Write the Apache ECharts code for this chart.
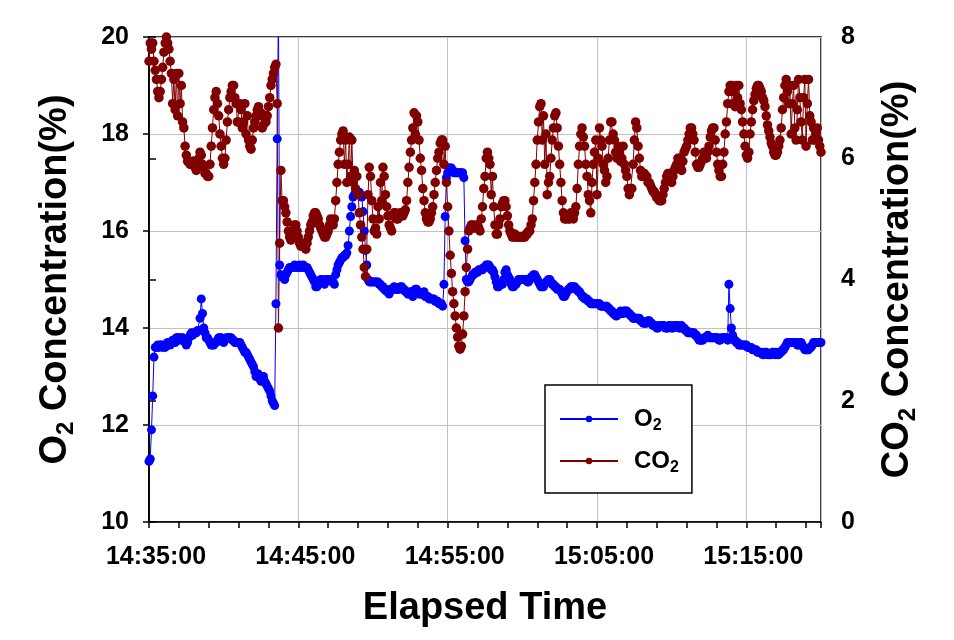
<!DOCTYPE html>
<html>
<head>
<meta charset="utf-8">
<script src="https://cdn.jsdelivr.net/npm/echarts@6/dist/echarts.min.js"></script>
<style>html,body{margin:0;padding:0;background:#fff}#c{width:954px;height:640px}</style>
</head>
<body>
<div id="c"></div>
<script>
// ---- data: one reading every 5 s starting at 14:35:00 (one row = one minute) ----
const sampleStepSeconds = 5;
const xTickLabels = ['14:35:00', '14:45:00', '14:55:00', '15:05:00', '15:15:00'];
const seriesNames = ['O2', 'CO2'];
const o2Values = [
  11.25, 11.3, 11.9, 12.6, 13.4, 13.6, 13.6, 13.65, 13.6, 13.65, 13.65, 13.6,
  13.65, 13.6, 13.65, 13.7, 13.7, 13.65, 13.7, 13.75, 13.75, 13.7, 13.8, 13.8,
  13.8, 13.75, 13.8, 13.8, 13.75, 13.7, 13.65, 13.7, 13.8, 13.85, 13.9, 13.85,
  13.9, 13.9, 13.9, 13.95, 13.95, 14.2, 14.6, 14.3, 14.0, 13.9, 13.8, 13.8,
  13.75, 13.7, 13.65, 13.65, 13.65, 13.7, 13.7, 13.75, 13.8, 13.8, 13.8, 13.75,
  13.7, 13.75, 13.8, 13.8, 13.8, 13.8, 13.8, 13.75, 13.75, 13.7, 13.7, 13.7,
  13.7, 13.7, 13.65, 13.6, 13.55, 13.5, 13.5, 13.45, 13.4, 13.35, 13.3, 13.25,
  13.2, 13.1, 13.0, 13.05, 13.05, 12.95, 12.9, 13.0, 13.0, 12.9, 12.85, 12.8,
  12.75, 12.7, 12.6, 12.5, 12.45, 12.4, 14.5, 17.9, 20.6, 15.3, 15.1, 15.05,
  15.05, 15.0, 15.1, 15.15, 15.2, 15.25, 15.25, 15.25, 15.25, 15.3, 15.25, 15.25,
  15.25, 15.3, 15.25, 15.25, 15.3, 15.25, 15.25, 15.25, 15.2, 15.15, 15.1, 15.05,
  15.0, 14.95, 14.85, 14.85, 14.95, 14.95, 15.0, 15.0, 14.95, 14.9, 15.0, 15.0,
  15.0, 15.0, 15.0, 14.95, 14.95, 14.9, 15.1, 15.2, 15.3, 15.35, 15.4, 15.45,
  15.45, 15.5, 15.5, 15.55, 15.7, 16.0, 16.3, 16.5, 16.7, 16.75, 16.8, 16.8,
  16.8, 16.8, 16.75, 16.7, 16.4, 16.0, 15.6, 15.3, 15.0, 14.95, 14.95, 14.95,
  14.95, 14.95, 14.95, 14.95, 14.95, 14.9, 14.9, 14.85, 14.85, 14.8, 14.8, 14.75,
  14.75, 14.7, 14.8, 14.8, 14.8, 14.85, 14.8, 14.8, 14.8, 14.8, 14.85, 14.85,
  14.8, 14.8, 14.75, 14.75, 14.7, 14.7, 14.75, 14.75, 14.65, 14.7, 14.8, 14.8,
  14.75, 14.7, 14.7, 14.7, 14.7, 14.75, 14.65, 14.65, 14.65, 14.6, 14.6, 14.6,
  14.6, 14.6, 14.55, 14.55, 14.55, 14.5, 14.5, 14.5, 14.45, 14.9, 16.3, 17.1,
  17.2, 17.3, 17.3, 17.3, 17.25, 17.2, 17.2, 17.2, 17.2, 17.2, 17.2, 17.2,
  17.2, 17.1, 15.8, 15.0, 14.95, 14.95, 15.0, 15.05, 15.1, 15.1, 15.15, 15.15,
  15.15, 15.2, 15.2, 15.2, 15.2, 15.25, 15.25, 15.3, 15.3, 15.3, 15.25, 15.2,
  15.2, 15.15, 15.05, 14.95, 14.85, 14.85, 14.9, 14.9, 14.9, 15.0, 15.15, 15.2,
  15.1, 15.05, 15.0, 14.9, 14.85, 14.85, 14.9, 14.9, 14.95, 15.0, 15.0, 15.0,
  15.0, 15.0, 15.0, 15.0, 14.95, 14.95, 15.0, 15.05, 15.05, 15.1, 15.1, 15.05,
  15.0, 14.95, 14.9, 14.85, 14.85, 14.85, 14.9, 14.95, 14.95, 15.0, 15.0, 14.95,
  14.9, 14.9, 14.85, 14.85, 14.8, 14.8, 14.8, 14.75, 14.7, 14.65, 14.65, 14.7,
  14.75, 14.8, 14.8, 14.85, 14.85, 14.85, 14.85, 14.8, 14.8, 14.75, 14.75, 14.7,
  14.65, 14.65, 14.6, 14.6, 14.6, 14.55, 14.55, 14.5, 14.5, 14.5, 14.5, 14.5,
  14.5, 14.5, 14.5, 14.45, 14.45, 14.45, 14.45, 14.45, 14.45, 14.4, 14.4, 14.35,
  14.35, 14.3, 14.3, 14.25, 14.25, 14.3, 14.3, 14.35, 14.3, 14.3, 14.35, 14.35,
  14.35, 14.3, 14.3, 14.25, 14.25, 14.2, 14.2, 14.2, 14.2, 14.2, 14.2, 14.15,
  14.15, 14.1, 14.1, 14.1, 14.1, 14.15, 14.15, 14.1, 14.1, 14.05, 14.05, 14.05,
  14.0, 14.0, 14.05, 14.05, 14.05, 14.05, 14.05, 14.0, 14.0, 14.0, 14.05, 14.05,
  14.0, 14.0, 14.05, 14.05, 14.05, 14.05, 14.0, 14.0, 14.05, 14.0, 14.0, 13.95,
  13.95, 13.9, 13.9, 13.9, 13.9, 13.9, 13.9, 13.85, 13.85, 13.8, 13.75, 13.75,
  13.75, 13.75, 13.8, 13.8, 13.8, 13.85, 13.8, 13.8, 13.8, 13.8, 13.8, 13.8,
  13.8, 13.8, 13.75, 13.75, 13.8, 13.8, 13.8, 13.8, 13.8, 13.75, 14.9, 14.4,
  14.0, 13.85, 13.75, 13.75, 13.7, 13.7, 13.65, 13.65, 13.65, 13.65, 13.65, 13.65,
  13.65, 13.6, 13.6, 13.6, 13.6, 13.55, 13.55, 13.55, 13.55, 13.5, 13.5, 13.5,
  13.5, 13.45, 13.45, 13.5, 13.5, 13.45, 13.45, 13.45, 13.45, 13.5, 13.5, 13.45,
  13.5, 13.45, 13.45, 13.5, 13.5, 13.55, 13.55, 13.6, 13.65, 13.7, 13.7, 13.7,
  13.7, 13.7, 13.7, 13.7, 13.7, 13.65, 13.65, 13.7, 13.7, 13.65, 13.6, 13.55,
  13.55, 13.55, 13.55, 13.6, 13.6, 13.65, 13.7, 13.7, 13.7, 13.7, 13.7, 13.7,
  13.7
];
const co2Values = [
  7.6, 7.9, 7.8, 7.9, 7.6, 7.45, 7.3, 7.1, 7.0, 7.1, 7.3, 7.5,
  7.75, 7.9, 8.0, 7.9, 7.8, 7.6, 7.4, 6.9, 7.3, 6.8, 7.4, 6.7,
  7.4, 6.9, 7.2, 6.6, 6.5, 6.2, 6.05, 5.95, 5.95, 5.9, 5.9, 5.95,
  5.95, 5.85, 5.8, 5.95, 6.0, 6.1, 6.05, 5.9, 5.85, 5.75, 5.75, 5.7,
  5.7, 5.9, 6.2, 6.5, 6.8, 7.0, 7.1, 6.9, 6.7, 6.4, 6.2, 6.0,
  5.9, 6.0, 6.3, 6.6, 6.8, 7.0, 7.1, 7.2, 7.2, 7.0, 6.9, 6.6,
  6.6, 6.9, 6.8, 6.5, 6.6, 6.9, 6.4, 6.7, 6.3, 6.2, 6.15, 6.3,
  6.5, 6.6, 6.7, 6.8, 6.85, 6.7, 6.75, 6.5, 6.55, 6.7, 6.6, 6.7,
  6.85, 7.0, 7.2, 7.3, 7.4, 7.5, 7.55, 6.9, 3.2, 4.6, 5.8, 5.3,
  5.3, 5.2, 5.1, 4.95, 4.8, 4.7, 4.65, 4.7, 4.8, 4.9, 4.9, 4.8,
  4.7, 4.6, 4.55, 4.6, 4.6, 4.55, 4.5, 4.6, 4.7, 4.8, 4.9, 4.95,
  5.05, 5.1, 5.1, 5.05, 5.0, 4.9, 4.85, 4.8, 4.75, 4.7, 4.7, 4.75,
  4.8, 4.9, 5.0, 4.95, 4.9, 5.0, 5.3, 5.6, 5.9, 6.1, 6.3, 6.4,
  6.45, 5.9, 6.3, 5.6, 5.9, 6.35, 5.7, 6.3, 5.6, 5.8, 5.5, 5.7,
  5.4, 5.1, 4.9, 4.7, 4.5, 4.2, 4.05, 4.5, 5.4, 5.85, 5.7, 5.3,
  5.0, 4.8, 4.85, 4.75, 5.2, 5.0, 5.6, 5.3, 5.85, 5.7, 5.4, 5.2,
  5.05, 4.9, 4.85, 4.8, 5.05, 5.1, 5.1, 5.0, 5.0, 5.05, 5.1, 5.05,
  5.05, 5.1, 5.15, 5.3, 5.6, 5.85, 6.1, 6.3, 6.5, 6.75, 6.4, 6.7,
  6.6, 6.3, 6.0, 5.8, 5.5, 5.3, 5.1, 5.0, 4.95, 4.95, 5.0, 5.1,
  5.2, 5.4, 5.6, 5.8, 6.0, 6.1, 6.25, 6.3, 6.3, 5.9, 6.2, 5.6,
  5.2, 4.8, 4.4, 4.1, 3.8, 3.6, 3.4, 3.2, 3.05, 2.9, 2.85, 2.9,
  3.1, 3.4, 3.8, 4.2, 4.5, 4.8, 4.85, 4.9, 4.9, 4.85, 4.85, 4.9,
  4.9, 4.85, 4.8, 5.0, 5.2, 5.5, 5.7, 6.0, 6.1, 6.0, 5.9, 5.4,
  5.7, 5.2, 4.9, 4.75, 4.75, 4.9, 5.0, 5.2, 5.25, 5.3, 5.3, 5.2,
  5.05, 4.9, 4.8, 4.75, 4.7, 4.7, 4.75, 4.7, 4.7, 4.7, 4.7, 4.7,
  4.7, 4.7, 4.7, 4.75, 4.75, 4.8, 4.8, 4.9, 5.0, 5.3, 5.6, 5.9,
  6.3, 6.6, 6.85, 6.9, 6.3, 6.7, 5.9, 6.4, 5.4, 5.6, 5.7, 6.0,
  6.3, 6.5, 6.7, 6.75, 6.5, 6.2, 5.9, 5.6, 5.3, 5.1, 5.0, 5.0,
  5.05, 5.0, 5.0, 5.1, 5.05, 5.0, 5.1, 5.2, 5.5, 5.9, 6.2, 6.4,
  6.5, 6.35, 6.2, 5.9, 5.7, 5.4, 5.3, 5.1, 5.6, 5.9, 6.1, 6.3,
  5.4, 6.0, 6.5, 6.3, 6.2, 5.9, 5.8, 5.6, 5.7, 6.0, 6.3, 6.6,
  6.6, 6.4, 6.3, 6.1, 6.0, 6.2, 6.1, 5.95, 6.0, 6.2, 5.9, 5.8,
  5.7, 5.5, 5.4, 5.5, 5.5, 5.9, 6.3, 6.6, 6.5, 6.2, 6.0, 5.8,
  5.7, 5.75, 5.75, 5.7, 5.7, 5.6, 5.6, 5.55, 5.5, 5.45, 5.45, 5.4,
  5.35, 5.35, 5.3, 5.3, 5.3, 5.4, 5.5, 5.6, 5.7, 5.75, 5.75, 5.65,
  5.6, 5.7, 5.8, 5.85, 5.9, 6.0, 6.0, 5.85, 5.8, 5.95, 6.1, 6.15,
  6.2, 6.3, 6.4, 6.5, 6.5, 6.4, 6.3, 6.1, 5.9, 5.85, 5.85, 5.9,
  5.95, 6.0, 6.1, 6.05, 6.0, 6.1, 6.2, 6.35, 6.45, 6.5, 6.5, 6.3,
  6.1, 5.9, 5.8, 5.7, 5.7, 5.9, 6.1, 6.4, 6.6, 6.9, 7.1, 7.2,
  7.2, 6.9, 7.1, 6.85, 7.2, 7.0, 7.2, 6.9, 6.8, 6.6, 6.4, 6.2,
  6.05, 6.0, 6.1, 6.4, 6.6, 6.8, 6.95, 7.05, 7.15, 7.2, 7.2, 7.15,
  7.1, 7.0, 6.95, 6.85, 6.7, 6.55, 6.45, 6.35, 6.25, 6.2, 6.1, 6.05,
  6.05, 6.1, 6.2, 6.3, 6.5, 6.8, 7.0, 7.2, 7.3, 7.1, 6.9, 7.2,
  6.4, 6.9, 7.2, 6.5, 6.3, 6.8, 7.3, 7.0, 6.6, 6.3, 7.0, 7.3,
  6.2, 6.9, 7.3, 6.7, 6.6, 6.3, 6.5, 6.3, 6.4, 6.5, 6.3, 6.2,
  6.1
];

// ---- chart ----
const FONT = 'Liberation Sans, Arial, sans-serif';
const toPoints = vals => vals.map((v, i) => [i * sampleStepSeconds / 60, v]);

const chart = echarts.init(document.getElementById('c'), null, {renderer: 'canvas'});
const black = '#000';
const gridGray = '#c0c0c0';
const titleRich = {
  b: {fontFamily: FONT, fontSize: 38, fontWeight: 'bold', color: black, lineHeight: 44},
  s: {fontFamily: FONT, fontSize: 24, fontWeight: 'bold', color: black, lineHeight: 20, verticalAlign: 'bottom'}
};

chart.setOption({
  animation: false,
  backgroundColor: '#fff',
  textStyle: {fontFamily: FONT},
  grid: {
    left: 149, right: 133, top: 37, bottom: 118,
    show: true, borderColor: black, borderWidth: 1.5,
    outerBoundsMode: 'none', containLabel: false
  },
  legend: {
    left: 545, top: 385, orient: 'vertical',
    padding: [22, 13, 17, 14],
    itemGap: 15, itemWidth: 58, itemHeight: 8,
    borderColor: black, borderWidth: 1.5, backgroundColor: '#fff',
    data: seriesNames,
    formatter: n => n === 'O2' ? '{b|O}{s|2}' : '{b|CO}{s|2}',
    selectedMode: false,
    textStyle: {
      rich: {
        b: {fontFamily: FONT, fontSize: 24, fontWeight: 'bold', color: black, lineHeight: 30, padding: [0, 0, 0, 11]},
        s: {fontFamily: FONT, fontSize: 16, fontWeight: 'bold', color: black, lineHeight: 12, verticalAlign: 'bottom'}
      }
    }
  },
  xAxis: [
    {
      type: 'value', position: 'bottom', min: 0, max: 45, interval: 2,
      axisLine: {show: true, lineStyle: {color: black, width: 1.5}},
      axisTick: {show: true, length: 6, lineStyle: {color: black, width: 1.5}},
      axisLabel: {show: false},
      splitLine: {show: false}
    },
    {
      type: 'value', position: 'bottom', min: 0, max: 45, interval: 10,
      axisLine: {show: false}, axisTick: {show: false},
      axisLabel: {
        show: true, margin: 23, color: black, fontSize: 25, fontWeight: 'bold', fontFamily: FONT,
        padding: [0, 0, 0, 14],
        formatter: v => (v % 10 === 0 && v / 10 < xTickLabels.length) ? xTickLabels[v / 10] : ''
      },
      splitLine: {show: true, lineStyle: {color: gridGray, width: 1}},
      name: 'Elapsed Time', nameLocation: 'middle', nameGap: 68,
      nameTextStyle: {fontFamily: FONT, fontSize: 38, fontWeight: 'bold', color: black}
    }
  ],
  yAxis: [
    {
      type: 'value', position: 'left', min: 10, max: 20, interval: 2,
      axisLine: {show: true, lineStyle: {color: black, width: 1.5}},
      axisTick: {show: true, length: 6, lineStyle: {color: black, width: 1.5}},
      axisLabel: {margin: 20, color: black, fontSize: 25, fontWeight: 'bold', fontFamily: FONT},
      splitLine: {show: true, lineStyle: {color: gridGray, width: 1}},
      name: '{b|O}{s|2}{b| Concentration(%)}', nameLocation: 'middle', nameRotate: 90, nameGap: 71,
      nameTextStyle: {rich: titleRich}
    },
    {
      type: 'value', position: 'right', min: 0, max: 8, interval: 2,
      axisLine: {show: true, lineStyle: {color: black, width: 1.5}},
      axisTick: {show: true, length: 7, lineStyle: {color: black, width: 1.5}},
      axisLabel: {margin: 20, color: black, fontSize: 25, fontWeight: 'bold', fontFamily: FONT},
      splitLine: {show: false},
      name: '{b|CO}{s|2}{b| Concentration(%)}', nameLocation: 'middle', nameRotate: 90, nameGap: 55,
      nameTextStyle: {rich: titleRich}
    }
  ],
  series: [
    {
      name: seriesNames[0], type: 'line', xAxisIndex: 0, yAxisIndex: 0,
      data: toPoints(o2Values),
      symbol: 'circle', symbolSize: 9, showAllSymbol: true, showSymbol: true,
      lineStyle: {color: '#0000ff', width: 1},
      itemStyle: {color: '#0000ff'},
      emphasis: {disabled: true}, clip: true
    },
    {
      name: seriesNames[1], type: 'line', xAxisIndex: 0, yAxisIndex: 1,
      data: toPoints(co2Values),
      symbol: 'circle', symbolSize: 9.5, showAllSymbol: true, showSymbol: true,
      lineStyle: {color: '#800000', width: 1},
      itemStyle: {color: '#800000'},
      emphasis: {disabled: true}, clip: true
    }
  ]
});
</script>
</body>
</html>
